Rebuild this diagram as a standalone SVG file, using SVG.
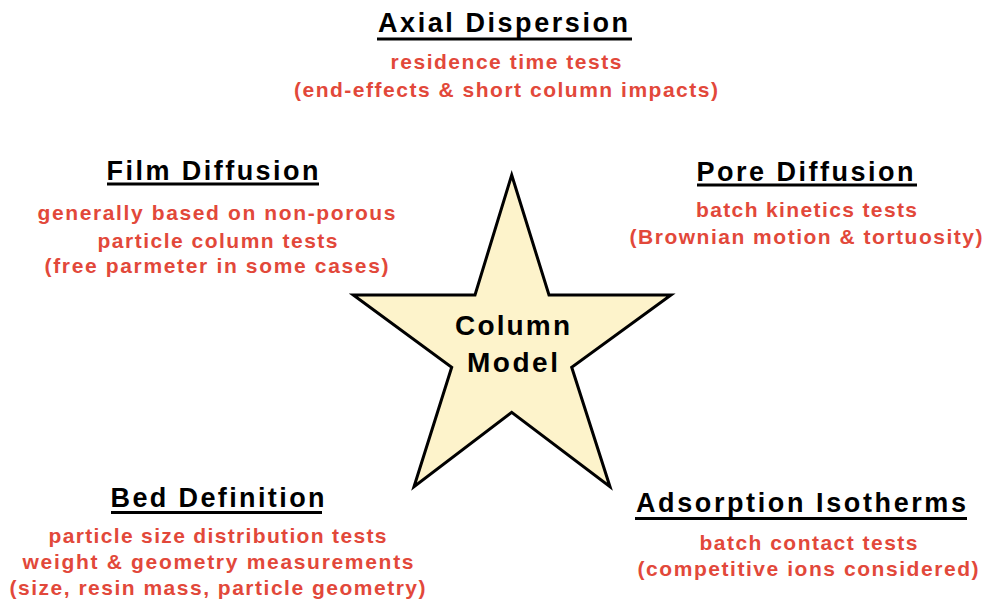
<svg xmlns="http://www.w3.org/2000/svg" width="987" height="603" viewBox="0 0 987 603">
<style>
text{font-family:"Liberation Sans",Arial,sans-serif;font-weight:bold}
.h{font-size:27px;fill:#000}
.r{font-size:21px;fill:#E2483A}
.c{font-size:28px;fill:#000}
.u{fill:#000}
</style>
<rect width="987" height="603" fill="#fff"/>
<g id="connectors"/>
<g id="star">
<polygon points="511.7,175 549,295 671,295 571.7,367.3 610,486.7 511.7,412.3 414,486.7 451.7,367.3 353.3,295 475,295" fill="#FDF3CB" stroke="#000" stroke-width="3" stroke-linejoin="miter"/>
<text class="c" x="455" y="335" textLength="115" lengthAdjust="spacing">Column</text>
<text class="c" x="467" y="372" textLength="91" lengthAdjust="spacing">Model</text>
</g>
<g id="axial">
<text class="h" x="378" y="32" textLength="250" lengthAdjust="spacing">Axial Dispersion</text>
<rect class="u" x="377" y="37.5" width="255" height="3"/>
<text class="r" x="390.5" y="68.5" textLength="231" lengthAdjust="spacing">residence time tests</text>
<text class="r" x="294" y="96.5" textLength="424" lengthAdjust="spacing">(end-effects &amp; short column impacts)</text>
</g>
<g id="film">
<text class="h" x="106.5" y="179.5" textLength="212" lengthAdjust="spacing">Film Diffusion</text>
<rect class="u" x="107" y="182.5" width="212" height="3"/>
<text class="r" x="37.5" y="220" textLength="358" lengthAdjust="spacing">generally based on non-porous</text>
<text class="r" x="97.5" y="248" textLength="240" lengthAdjust="spacing">particle column tests</text>
<text class="r" x="44.5" y="273" textLength="344" lengthAdjust="spacing">(free parmeter in some cases)</text>
</g>
<g id="pore">
<text class="h" x="696.5" y="180.5" textLength="217" lengthAdjust="spacing">Pore Diffusion</text>
<rect class="u" x="697" y="183.5" width="220" height="3"/>
<text class="r" x="696" y="216.5" textLength="221" lengthAdjust="spacing">batch kinetics tests</text>
<text class="r" x="629.5" y="243.5" textLength="353" lengthAdjust="spacing">(Brownian motion &amp; tortuosity)</text>
</g>
<g id="bed">
<text class="h" x="110.5" y="506.5" textLength="214" lengthAdjust="spacing">Bed Definition</text>
<rect class="u" x="111" y="511" width="211" height="3"/>
<text class="r" x="48.5" y="542.5" textLength="338" lengthAdjust="spacing">particle size distribution tests</text>
<text class="r" x="22.5" y="568.5" textLength="391" lengthAdjust="spacing">weight &amp; geometry measurements</text>
<text class="r" x="9.5" y="594.5" textLength="416" lengthAdjust="spacing">(size, resin mass, particle geometry)</text>
</g>
<g id="adsorption">
<text class="h" x="636" y="511.5" textLength="330" lengthAdjust="spacing">Adsorption Isotherms</text>
<rect class="u" x="635" y="517" width="332" height="3"/>
<text class="r" x="699.5" y="550" textLength="218" lengthAdjust="spacing">batch contact tests</text>
<text class="r" x="637.5" y="576" textLength="341" lengthAdjust="spacing">(competitive ions considered)</text>
</g>
</svg>
